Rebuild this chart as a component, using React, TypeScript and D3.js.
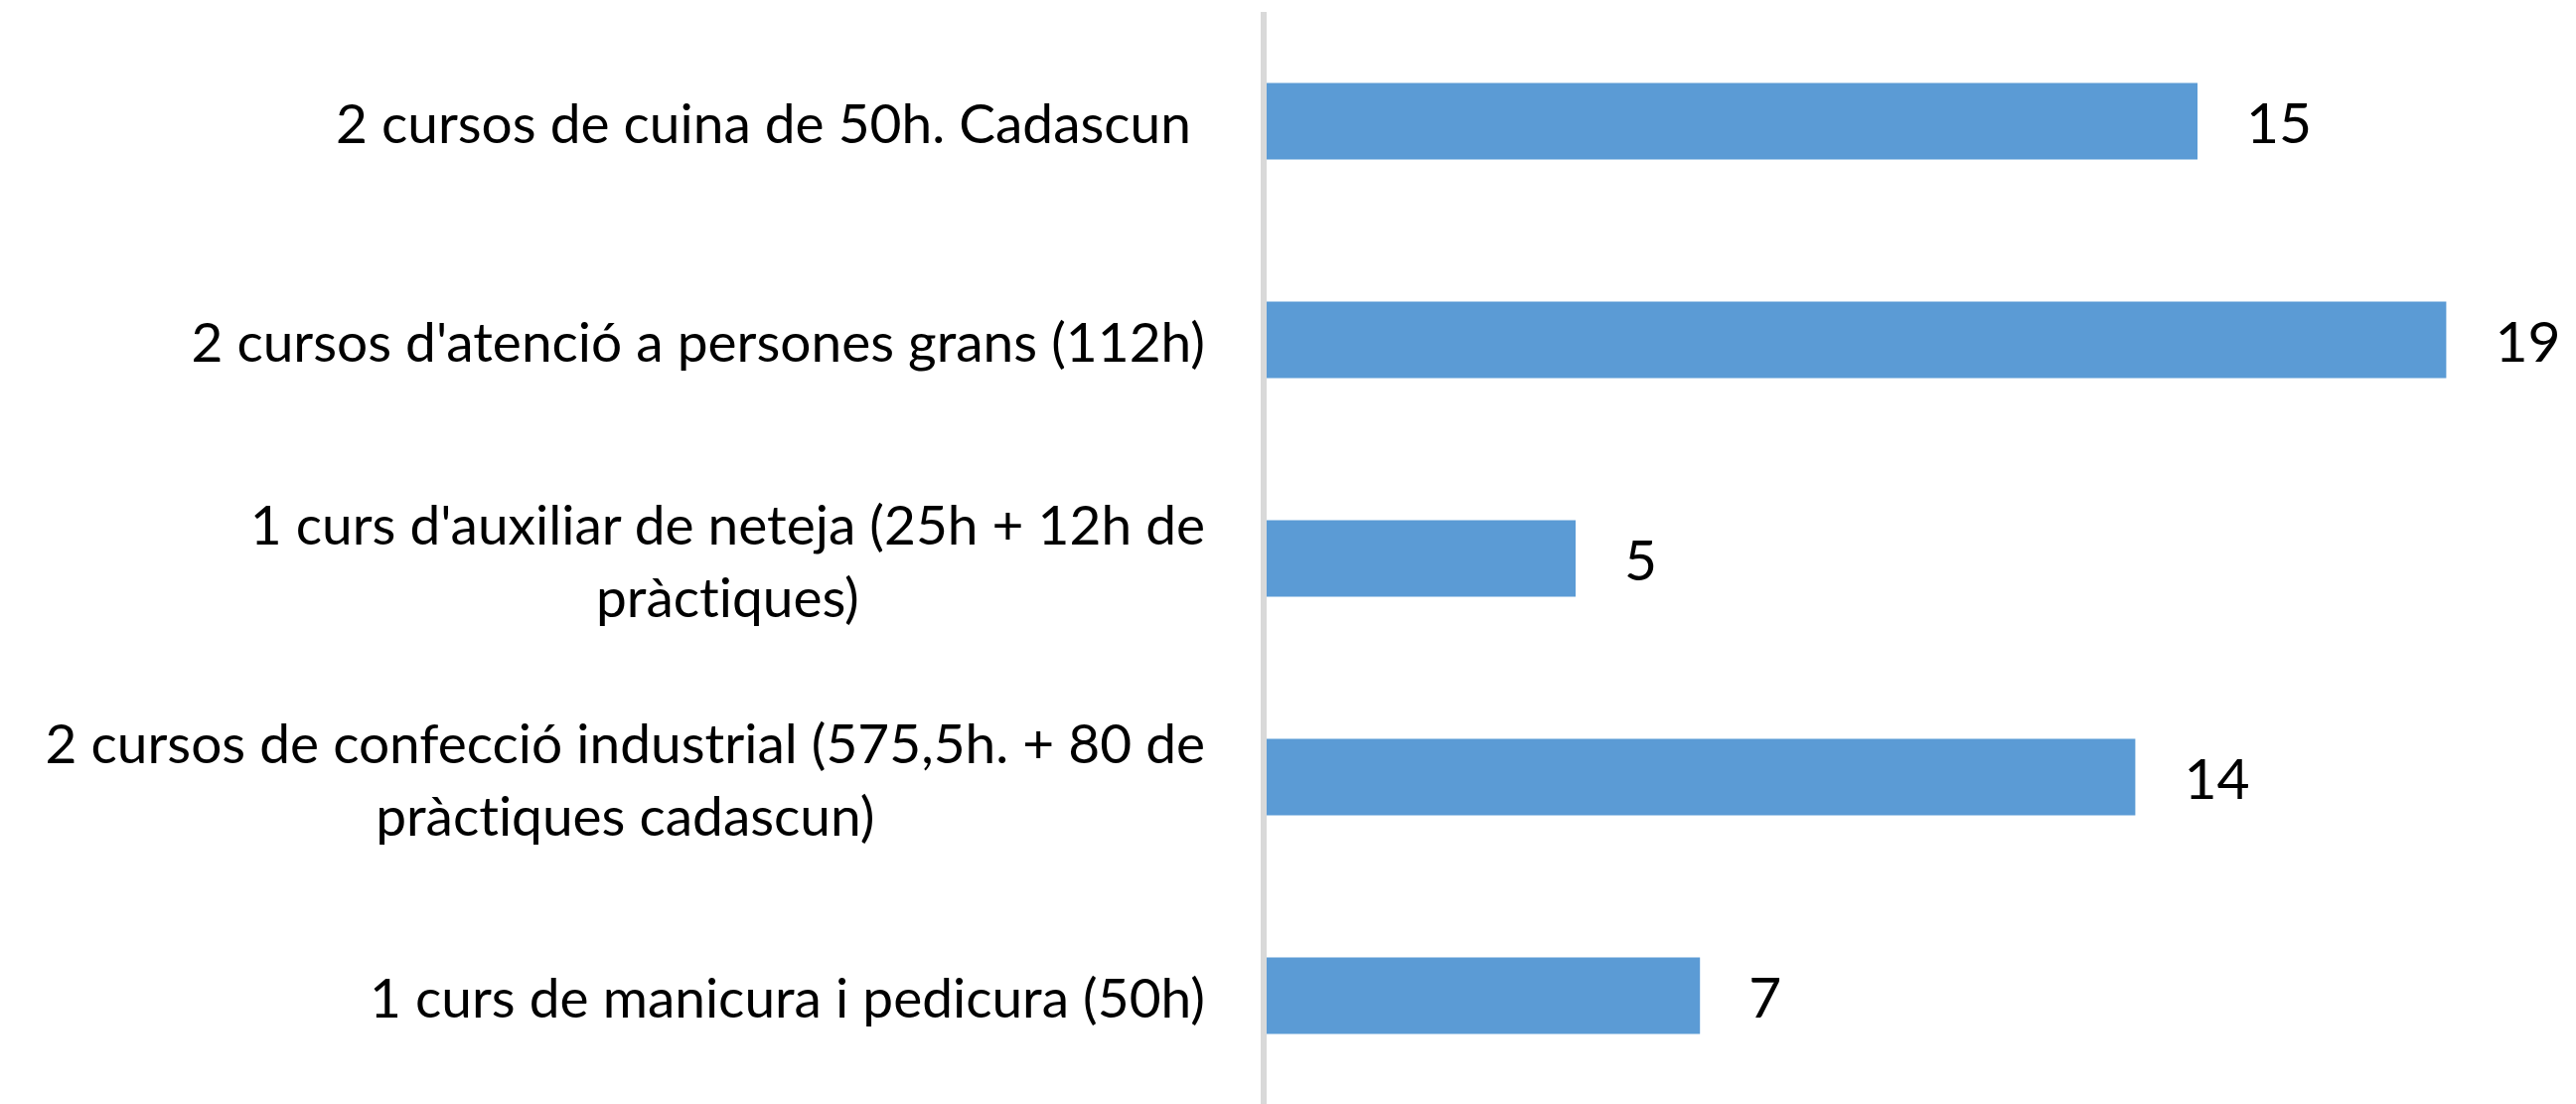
import React from "react";
import { scaleBand, scaleLinear } from "d3";

const categories = [
  ["2 cursos de cuina de 50h. Cadascun "],
  ["2 cursos d'atenció a persones grans (112h)"],
  ["1 curs d'auxiliar de neteja (25h + 12h de", "pràctiques)"],
  ["2 cursos de confecció industrial (575,5h. + 80 de", "pràctiques cadascun)"],
  ["1 curs de manicura i pedicura (50h)"],
];
const values = [15, 19, 5, 14, 7];
const maxValue = 20;

const App = () => {
  const width = 2593;
  const height = 1111;
  const axisX = 1273;
  const labelRight = 1213;
  const fontFamily = "Lato, 'Noto Sans', sans-serif";

  const keys = categories.map((c) => c.join(" "));

  const y = scaleBand()
    .domain(keys)
    .range([12, 1112])
    .paddingInner(0.65)
    .paddingOuter(0.325);

  const x = scaleLinear()
    .domain([0, maxValue])
    .range([axisX, axisX + 62.6 * maxValue]);

  const lineGap = 73;

  return (
    <svg
      width={width}
      height={height}
      style={{ position: "absolute", top: 0, left: 0, background: "#fff" }}
    >
      {keys.map((k, i) => {
        const cy = y(k) + y.bandwidth() / 2;
        const lines = categories[i];
        const multi = lines.length > 1;
        return (
          <g key={i}>
            <rect
              x={x(0)}
              y={y(k)}
              width={x(values[i]) - x(0)}
              height={y.bandwidth()}
              fill="#5b9bd5"
            />
            <text
              x={x(values[i]) + 49}
              y={cy + 22}
              fontSize="57"
              fontFamily={fontFamily}
              fill="#000"
            >
              {values[i]}
            </text>
            {lines.map((line, j) => (
              <text
                key={j}
                className={multi ? "multi" : ""}
                x={labelRight}
                y={cy + 22 + (j - (lines.length - 1) / 2) * lineGap}
                textAnchor={multi ? "middle" : "end"}
                fontSize="55"
                fontFamily={fontFamily}
                fill="#000"
                style={{ whiteSpace: "pre", fontVariantLigatures: "none" }}
                ref={(el) => {
                  // wrapped labels: lines centred under the first line, which ends at the label edge
                  if (!el || !multi) return;
                  const first = el.parentNode.querySelector("text.multi");
                  if (!first) return;
                  el.setAttribute("x", String(labelRight - first.getComputedTextLength() / 2));
                }}
              >
                {line}
              </text>
            ))}
          </g>
        );
      })}
      <line
        x1={axisX - 1}
        x2={axisX - 1}
        y1={12}
        y2={height}
        stroke="#d9d9d9"
        strokeWidth={6}
      />
    </svg>
  );
};

export default App;
